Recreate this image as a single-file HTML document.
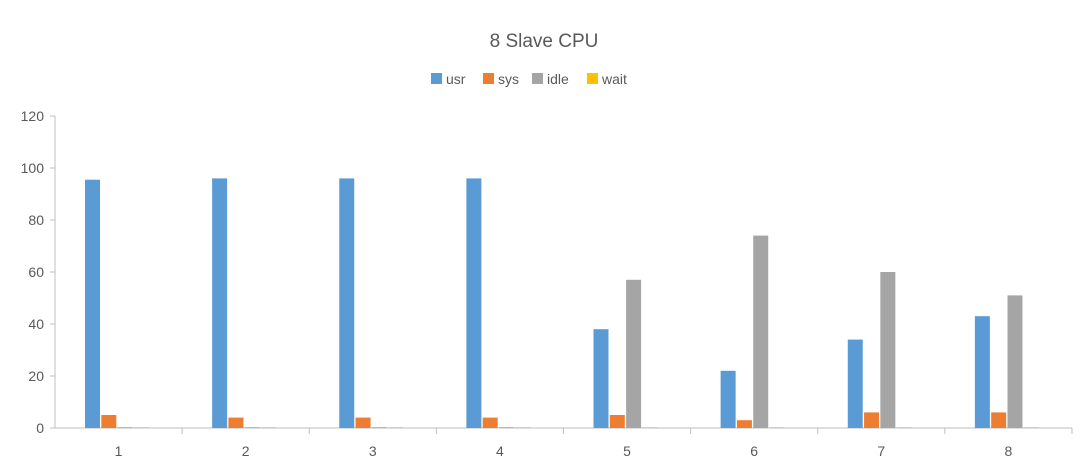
<!DOCTYPE html>
<html><head><meta charset="utf-8"><style>
body{margin:0;background:#fff;font-family:"Liberation Sans",sans-serif}
</style></head><body>
<svg id="c" width="1088" height="466" xmlns="http://www.w3.org/2000/svg"></svg>
<script>
const categories=["1","2","3","4","5","6","7","8"];
const usr=[95.5,96,96,96,38,22,34,43];
const sys=[5,4,4,4,5,3,6,6];
const idle=[0.3,0.3,0.3,0.3,57,74,60,51];
const wait=[0.3,0.3,0.3,0.3,0.3,0.3,0.3,0.3];
const yTicks=[0,20,40,60,80,100,120];
const seriesNames=["usr","sys","idle","wait"];
const colors=["#5b9bd5","#ed7d31","#a5a5a5","#ffc000"];
const series=[usr,sys,idle,wait];
const svg=document.getElementById('c');const NS="http://www.w3.org/2000/svg";
const x0=55,x1=1072,y0=428,yTop=116,yMax=120;
const y=v=>y0-(v/yMax)*(y0-yTop);
const bw=(x1-x0)/categories.length;
function mk(t,a,txt){const e=document.createElementNS(NS,t);for(const k in a)e.setAttribute(k,a[k]);if(txt!=null)e.textContent=txt;svg.appendChild(e);return e;}
let t=mk('text',{x:544,y:47,'text-anchor':'middle','font-size':19,fill:'#595959'},'8 Slave CPU');

// legend
const lx=[431,483,532,587];
seriesNames.forEach((n,i)=>{
 const r=mk('rect',{x:lx[i],y:73,width:11,height:11,fill:colors[i]});
 
 const tt=mk('text',{x:lx[i]+15,y:84,'font-size':14,fill:'#595959'},n);
 
});
yTicks.forEach(v=>{
 const tl=mk('text',{x:44,y:y(v)+5,'text-anchor':'end','font-size':14,fill:'#595959'},v);
 
 mk('line',{x1:x0-5,x2:x0,y1:y(v),y2:y(v),stroke:'#bfbfbf'});
});
mk('line',{x1:x0,x2:x0,y1:yTop,y2:y0,stroke:'#bfbfbf'});
mk('line',{x1:x0,x2:x1,y1:y0,y2:y0,stroke:'#bfbfbf'});
categories.forEach((c,i)=>{
 mk('line',{x1:x0+bw*(i+1),x2:x0+bw*(i+1),y1:y0,y2:y0+6,stroke:'#bfbfbf'});
 const cl=mk('text',{x:x0+bw*(i+0.5),y:456,'text-anchor':'middle','font-size':14,fill:'#595959'},c);
 
 series.forEach((s,j)=>{
  const bx=x0+bw*i+30+j*16.3;
  const r=mk('rect',{x:bx,y:y(s[i]),width:15,height:y0-y(s[i]),fill:colors[j]});
  
 });
});
</script>
</body></html>
